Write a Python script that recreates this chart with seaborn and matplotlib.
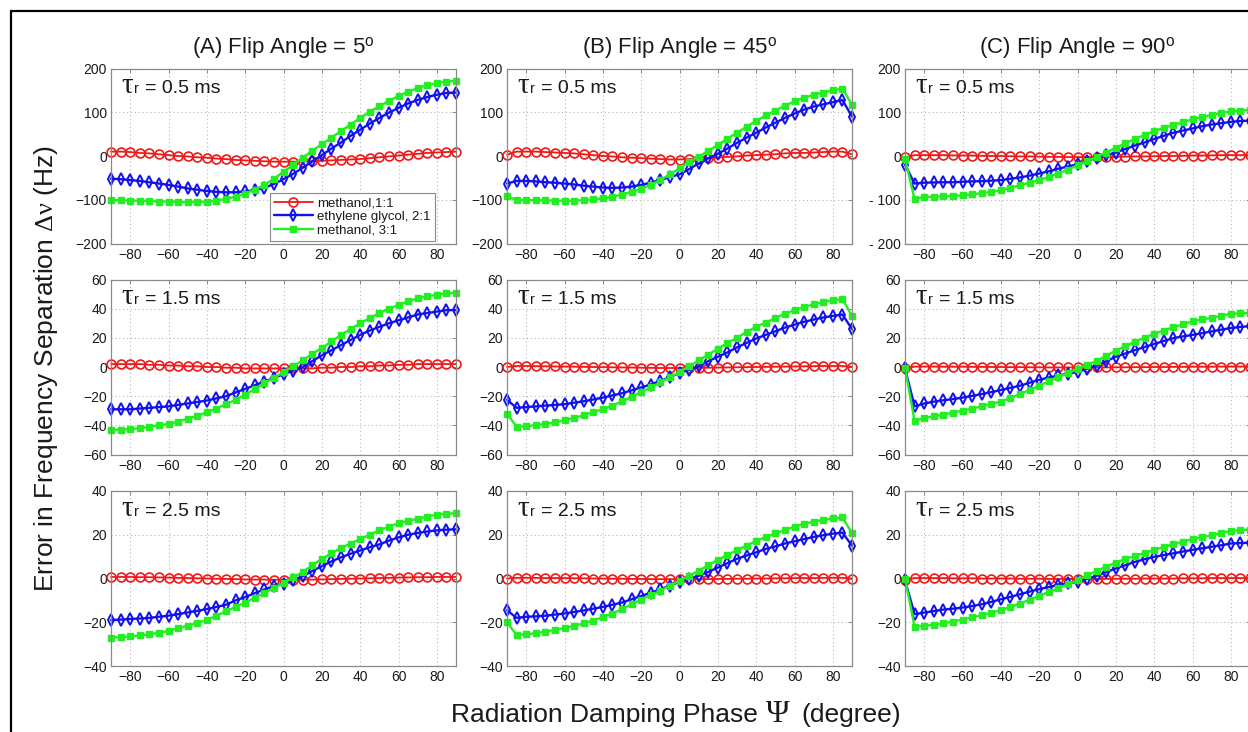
import matplotlib
matplotlib.use("Agg")
import matplotlib.pyplot as plt
from matplotlib.transforms import IdentityTransform
from matplotlib.patches import Rectangle
import pandas as pd
import seaborn as sns

# ---------------------------------------------------------------- data
psi = [-90, -85, -80, -75, -70, -65, -60, -55, -50, -45, -40, -35, -30,
       -25, -20, -15, -10, -5, 0, 5, 10, 15, 20, 25, 30, 35, 40, 45, 50,
       55, 60, 65, 70, 75, 80, 85, 90]

flip_angles = [5, 45, 90]
tau_values = ["0.5", "1.5", "2.5"]
sample_labels = ["methanol,1:1", "ethylene glycol, 2:1", "methanol, 3:1"]
panel_letters = ["A", "B", "C"]
row_yticks = [[-200, -100, 0, 100, 200],
              [-60, -40, -20, 0, 20, 40, 60],
              [-40, -20, 0, 20, 40]]
psi_ticks = [-80, -60, -40, -20, 0, 20, 40, 60, 80]

# flip angle 5 deg
meoh11_fa5_t05 = [10, 10, 9, 7, 6, 4, 2, 0, -1, -3, -4, -6, -7, -9, -10, -11, -12, -13, -13,
                  -13, -13, -12, -11, -10, -9, -8, -7, -5, -3, -1, 1, 3, 5, 7, 8, 9, 10]
eg21_fa5_t05 = [-52, -53, -55, -57, -60, -63, -66, -70, -74, -77, -80, -82, -83, -83, -81, -78,
                -73, -64, -53, -41, -27, -12, 2, 17, 31, 46, 60, 74, 87, 99, 110, 120, 128, 135,
                140, 144, 145]
meoh31_fa5_t05 = [-101, -101, -102, -102, -103, -104, -104, -105, -105, -105, -104, -102, -98,
                  -93, -86, -77, -66, -52, -36, -20, -4, 12, 27, 42, 57, 72, 87, 101, 114, 126,
                  137, 147, 155, 162, 167, 170, 172]

meoh11_fa5_t15 = [2, 2, 2, 2, 1.5, 1.5, 1, 1, 0.5, 0.5, 0, 0, -0.5, -0.5, -1, -1, -1, -1, -1,
                  -1, -1, -1, -0.5, -0.5, 0, 0, 0.5, 0.5, 1, 1, 1.5, 1.5, 2, 2, 2, 2, 2]
eg21_fa5_t15 = [-29, -29, -29, -28.5, -28, -27.5, -27, -26, -25, -24, -23, -21.5, -20, -17.5,
                -15, -12.5, -10, -7.5, -5, -2.5, 0, 4, 8, 11.5, 15, 18.5, 22, 25, 27.5, 30, 32,
                34, 36, 37, 38, 39, 39]
meoh31_fa5_t15 = [-43, -43, -42.5, -42, -41, -40, -39, -37.5, -35.5, -33.5, -31, -28.5, -25.5,
                  -22.5, -19, -15, -11, -7.5, -3.5, 0.5, 4.5, 9, 13, 17.5, 22, 26, 30, 33.5, 37,
                  40, 42.5, 45, 47, 48.5, 49.5, 50.5, 51]

meoh11_fa5_t25 = [0.7, 0.7, 0.7, 0.6, 0.6, 0.5, 0.4, 0.3, 0.2, 0.1, 0, -0.1, -0.2, -0.3, -0.4,
                  -0.5, -0.5, -0.6, -0.6, -0.6, -0.5, -0.5, -0.4, -0.3, -0.2, -0.1, 0, 0.1, 0.2,
                  0.3, 0.4, 0.5, 0.6, 0.6, 0.7, 0.7, 0.7]
eg21_fa5_t25 = [-19, -18.8, -18.5, -18.3, -18, -17.5, -17, -16.3, -15.5, -14.8, -14, -13, -12,
                -10, -8.5, -6.7, -5, -3.5, -2.4, -0.7, 1, 3.4, 5.6, 7.8, 9.7, 11.3, 12.8, 14.3,
                15.6, 17.3, 18.8, 20, 20.8, 21.5, 22, 22.3, 22.5]
meoh31_fa5_t25 = [-27, -26.8, -26.5, -26, -25.5, -24.8, -24, -22.8, -21.5, -20.3, -19, -17, -15,
                  -13, -11, -8.8, -6.6, -4.3, -2, 0.5, 3, 6, 9, 11.5, 14, 16, 18, 20, 22, 23.7,
                  25.3, 26.3, 27.3, 28.3, 29.2, 29.6, 29.8]

# flip angle 45 deg
meoh11_fa45_t05 = [3, 10, 10, 10, 9, 8, 7, 6, 4, 2, 0, -1, -3, -4, -5, -6, -7, -8, -8, -7, -6,
                   -5, -4, -2, -1, 1, 2, 3, 4, 6, 7, 7, 8, 9, 10, 10, 4]
eg21_fa45_t05 = [-63, -57, -57, -58, -60, -61, -63, -65, -68, -70, -72, -73, -72, -70, -66, -61,
                 -55, -48, -42, -30, -17, -5, 5, 17, 30, 42, 53, 65, 76, 87, 97, 106, 113, 118,
                 123, 128, 90]
meoh31_fa45_t05 = [-92, -101, -101, -101, -101, -102, -102, -102, -101, -99, -97, -93, -88, -82,
                   -75, -66, -55, -42, -28, -13, -2, 12, 25, 40, 53, 67, 80, 93, 104, 115, 125,
                   133, 140, 145, 150, 154, 117]

meoh11_fa45_t15 = [0, 0.7, 0.7, 0.6, 0.5, 0.4, 0.3, 0.2, 0.1, 0, -0.1, -0.2, -0.3, -0.4, -0.5,
                   -0.6, -0.7, -0.7, -0.7, -0.7, -0.6, -0.5, -0.4, -0.3, -0.2, -0.1, 0, 0.1, 0.2,
                   0.3, 0.4, 0.5, 0.6, 0.7, 0.7, 0.7, 0]
eg21_fa45_t15 = [-22.5, -28, -27.5, -27, -26.5, -26, -25.5, -24.5, -23.5, -22.3, -21, -19.5, -18,
                 -16, -14, -12, -9.5, -7, -4, -2, 0.5, 4, 7, 10, 13.5, 16.5, 19.5, 22, 24.5, 27,
                 29, 31, 32.5, 34, 35, 36, 26]
meoh31_fa45_t15 = [-32, -41, -40.5, -40, -39, -38, -36.5, -35, -33, -31, -29, -26.5, -23.5, -20.5,
                   -17, -14, -10.5, -7, -3.5, 0.5, 4.5, 8.5, 12.5, 16.5, 20, 24, 27.5, 30.5, 33.5,
                   36.5, 39, 41, 43, 44.5, 46, 46.5, 35]

meoh11_fa45_t25 = [0, 0.3, 0.3, 0.3, 0.2, 0.2, 0.2, 0.1, 0.1, 0, 0, -0.1, -0.1, -0.2, -0.2, -0.3,
                   -0.3, -0.3, -0.3, -0.3, -0.3, -0.3, -0.2, -0.2, -0.1, -0.1, 0, 0, 0.1, 0.1,
                   0.2, 0.2, 0.2, 0.3, 0.3, 0.3, 0]
eg21_fa45_t25 = [-14.5, -18, -17.5, -17.3, -17, -16.5, -16, -15.3, -14.6, -13.8, -13, -12, -11,
                 -9.5, -8, -6.5, -5, -3.2, -1.5, -0.2, 1.2, 3, 5, 7, 9, 10.5, 12, 13.5, 14.7, 16,
                 17, 18, 19, 19.8, 20.5, 21, 15]
meoh31_fa45_t25 = [-20, -25.8, -25.5, -25, -24.3, -23.5, -22.7, -21.7, -20.5, -19.2, -17.7, -16,
                   -14, -11.8, -9.6, -7.6, -5.6, -3.3, -1, 1.2, 3.6, 6, 8.5, 10.8, 12.9, 15, 17.2,
                   19, 20.6, 22.2, 23.7, 25, 26, 26.8, 27.5, 27.9, 20.8]

# flip angle 90 deg
meoh11_fa90_t05 = [-3, 2, 2, 2, 2, 1.5, 1, 1, 0.5, 0, 0, -0.5, -1, -1, -1.5, -2, -2, -2.5, -2.5,
                   -2.5, -2.5, -2, -2, -1.5, -1, -1, -0.5, 0, 0, 0.5, 1, 1, 1.5, 2, 2, 2, 2]
eg21_fa90_t05 = [-20, -63, -61, -60.5, -60, -60, -59, -58, -57.5, -56.5, -55, -52, -49, -45, -40,
                 -35, -29, -24, -19, -11, -4, 2, 8, 16, 24, 31, 39, 46, 53, 58, 63, 68, 72, 75,
                 78, 80, 81]
meoh31_fa90_t05 = [-6, -99, -93.5, -93, -92, -91, -90, -87.5, -85, -82, -78, -73, -67, -61, -55,
                   -48, -40, -31, -21, -12, -2, 8, 19, 29, 39, 48, 57, 64, 71, 77, 84, 89, 94, 98,
                   102, 104, 105]

meoh11_fa90_t15 = [-1, 0.3, 0.3, 0.3, 0.2, 0.2, 0.2, 0.1, 0.1, 0, 0, -0.1, -0.1, -0.2, -0.2,
                   -0.3, -0.3, -0.3, -0.3, -0.3, -0.3, -0.3, -0.2, -0.2, -0.1, -0.1, 0, 0, 0.1,
                   0.1, 0.2, 0.2, 0.2, 0.3, 0.3, 0.3, 0.3]
eg21_fa90_t15 = [-1, -27, -25, -23.8, -22.8, -22, -21, -19.8, -18.6, -17.2, -15.8, -14.3, -12.8,
                 -10.8, -8.8, -7.2, -5.8, -4.6, -3.5, -1.2, 1, 4, 7, 9.3, 11.6, 13.7, 15.8, 17.8,
                 19.8, 21, 22, 23.2, 24.4, 25.6, 26.7, 27.5, 28]
meoh31_fa90_t15 = [-0.7, -37, -35, -33.8, -32.6, -31.3, -30, -28.5, -27, -25.3, -23.7, -21.2,
                   -18.6, -15.7, -12.8, -9.9, -7, -4.1, -1.2, 1.5, 4.2, 7.7, 11.2, 14.3, 17.4,
                   20.1, 22.8, 25, 27.2, 29.3, 31.4, 32.6, 33.7, 35.1, 36.5, 36.8, 37]

meoh11_fa90_t25 = [-0.5, 0.2, 0.2, 0.2, 0.2, 0.1, 0.1, 0.1, 0, 0, 0, 0, -0.1, -0.1, -0.1, -0.2,
                   -0.2, -0.2, -0.2, -0.2, -0.2, -0.2, -0.1, -0.1, -0.1, 0, 0, 0, 0, 0.1, 0.1,
                   0.1, 0.2, 0.2, 0.2, 0.2, 0.2]
eg21_fa90_t25 = [-0.8, -16.3, -15.6, -14.9, -14.2, -13.8, -13.3, -12.6, -11.8, -10.7, -9.5, -8.4,
                 -7.2, -6, -4.9, -3.9, -2.9, -2.2, -1.5, -0.2, 1.2, 2.9, 4.6, 6.1, 7.6, 8.8, 9.9,
                 10.7, 11.5, 12.3, 13.1, 13.8, 14.5, 15.2, 16, 16.2, 16.4]
meoh31_fa90_t25 = [0, -22, -21.7, -21.1, -20.5, -19.7, -18.8, -17.8, -16.8, -15.7, -14.5, -13,
                   -11.5, -9.7, -7.9, -6.2, -4.4, -2.6, -0.8, 1.4, 3.5, 5.4, 7.3, 8.9, 10.4, 11.7,
                   13, 14.4, 15.7, 16.9, 18, 18.9, 19.8, 20.8, 21.8, 22.1, 22.4]

panel_series = {
    (0, 0): (meoh11_fa5_t05, eg21_fa5_t05, meoh31_fa5_t05),
    (1, 0): (meoh11_fa5_t15, eg21_fa5_t15, meoh31_fa5_t15),
    (2, 0): (meoh11_fa5_t25, eg21_fa5_t25, meoh31_fa5_t25),
    (0, 1): (meoh11_fa45_t05, eg21_fa45_t05, meoh31_fa45_t05),
    (1, 1): (meoh11_fa45_t15, eg21_fa45_t15, meoh31_fa45_t15),
    (2, 1): (meoh11_fa45_t25, eg21_fa45_t25, meoh31_fa45_t25),
    (0, 2): (meoh11_fa90_t05, eg21_fa90_t05, meoh31_fa90_t05),
    (1, 2): (meoh11_fa90_t15, eg21_fa90_t15, meoh31_fa90_t15),
    (2, 2): (meoh11_fa90_t25, eg21_fa90_t25, meoh31_fa90_t25),
}

records = []
for (r, c), trio in panel_series.items():
    for label, vals in zip(sample_labels, trio):
        for p, v in zip(psi, vals):
            records.append({"row": r, "col": c, "sample": label, "psi": p, "err": v})
df = pd.DataFrame(records)

# ---------------------------------------------------------------- style
sns.set_style("white")
plt.rcParams["font.family"] = ["Liberation Sans", "DejaVu Sans"]
plt.rcParams["mathtext.fontset"] = "custom"
plt.rcParams["mathtext.rm"] = "Liberation Serif"
plt.rcParams["mathtext.it"] = "Liberation Serif:italic"
plt.rcParams["mathtext.sf"] = "Liberation Sans"

SANS = ["Liberation Sans", "DejaVu Sans"]
SERIF = ["Liberation Serif", "DejaVu Serif"]
TXT = "#1a1a1a"
EDGE = "#8a8a8a"

line_styles = {
    "methanol,1:1": dict(color="#f01818", marker="o", markersize=6.4, markerfacecolor="none",
                         markeredgecolor="#f01818", markeredgewidth=1.2, linewidth=1.3),
    "ethylene glycol, 2:1": dict(color="#1010f0", marker="d", markersize=5.8,
                                 markerfacecolor="none", markeredgecolor="#1010f0",
                                 markeredgewidth=1.4, linewidth=1.7),
    "methanol, 3:1": dict(color="#22ee22", marker="s", markersize=4.9,
                          markerfacecolor="#22ee22", markeredgecolor="#22ee22",
                          markeredgewidth=1.0, linewidth=1.7),
}

W, H = 1248, 732
fig = plt.figure(figsize=(W / 100, H / 100), dpi=100)
fig.patch.set_facecolor("white")

col_left = [111, 507, 905]
row_top = [68.5, 279.5, 491]
AX_W, AX_H = 345, 175


def rect(left, top, w, h):
    return [left / W, 1 - (top + h) / H, w / W, h / H]


renderer = fig.canvas.get_renderer()


def draw_runs(x_px, y_top_px, runs, align="left"):
    """Place several text pieces side by side on a common baseline (pixel coords)."""
    arts = []
    for s, size, fam, gap in runs:
        t = fig.text(0, 0, s, fontsize=size, family=fam, color=TXT,
                     ha="left", va="baseline", transform=IdentityTransform())
        arts.append((t, gap))
    widths = [t.get_window_extent(renderer).width for t, _ in arts]
    total = sum(widths) + sum(g for _, g in arts[:-1])
    x = x_px - total / 2 if align == "center" else x_px
    y = H - y_top_px
    for (t, gap), w in zip(arts, widths):
        t.set_position((x, y))
        x += w + gap


for r in range(3):
    for c in range(3):
        ax = fig.add_axes(rect(col_left[c], row_top[r], AX_W, AX_H))
        sub = df[(df["row"] == r) & (df["col"] == c)]
        for label in sample_labels:
            d = sub[sub["sample"] == label]
            sns.lineplot(data=d, x="psi", y="err", ax=ax, label=label, legend=False,
                         clip_on=False, **line_styles[label])
        yt = row_yticks[r]
        ax.set_xlim(-90, 90)
        ax.set_ylim(yt[0], yt[-1])
        ax.set_xticks(psi_ticks)
        ax.set_yticks(yt)
        if r == 0 and c == 2:
            ax.set_yticklabels([("- " + str(abs(v))) if v < 0 else str(v) for v in yt])
        ax.set_xlabel("")
        ax.set_ylabel("")
        ax.grid(True, linestyle=(0, (1, 2.5)), color="#b8b8b8", linewidth=0.8)
        ax.tick_params(direction="in", top=True, right=True, length=3, width=0.7,
                       color=EDGE, labelsize=10, labelcolor=TXT, pad=3)
        for sp in ax.spines.values():
            sp.set_color(EDGE)
            sp.set_linewidth(0.9)
        if ax.get_legend() is not None:
            ax.get_legend().remove()

        # tau label inside the panel
        draw_runs(col_left[c] + 10, row_top[r] + 24.5,
                  [("τ", 21, SERIF, 1.5), ("r", 10.5, SANS, 6),
                   ("= " + tau_values[r] + " ms", 14, SANS, 0)])

        if r == 0 and c == 0:
            handles = ax.get_lines()[:3]
            leg = ax.legend(handles, sample_labels, loc="lower left",
                            bbox_to_anchor=(0.46, 0.015), fontsize=9.5, frameon=True,
                            fancybox=False, edgecolor=EDGE, framealpha=1,
                            handlelength=3.0, labelspacing=0.12, borderpad=0.3,
                            handletextpad=0.3, borderaxespad=0)
            leg.get_frame().set_linewidth(0.8)
            for t in leg.get_texts():
                t.set_color(TXT)

# column titles
for c in range(3):
    fig.text((col_left[c] + AX_W / 2) / W, 1 - 53 / H,
             "(%s) Flip Angle = %d$^{\\mathsf{o}}$" % (panel_letters[c], flip_angles[c]),
             ha="center", va="baseline", fontsize=16, color=TXT)

# shared axis labels
fig.text(46 / W, 1 - 368 / H, r"Error in Frequency Separation $\mathrm{\Delta\nu}$ (Hz)",
         rotation=90, ha="center", va="center", fontsize=19, color=TXT)
draw_runs(676, 722, [("Radiation Damping Phase", 19, SANS, 8),
                     ("Ψ", 23, SERIF, 12), ("(degree)", 19, SANS, 0)], align="center")

# outer frame
fig.patches.append(Rectangle((11 / W, -0.5), 2.0, 1.5 - 11 / H, transform=fig.transFigure,
                             fill=False, edgecolor="black", linewidth=1.6))

fig.savefig("out.png", dpi=100)
